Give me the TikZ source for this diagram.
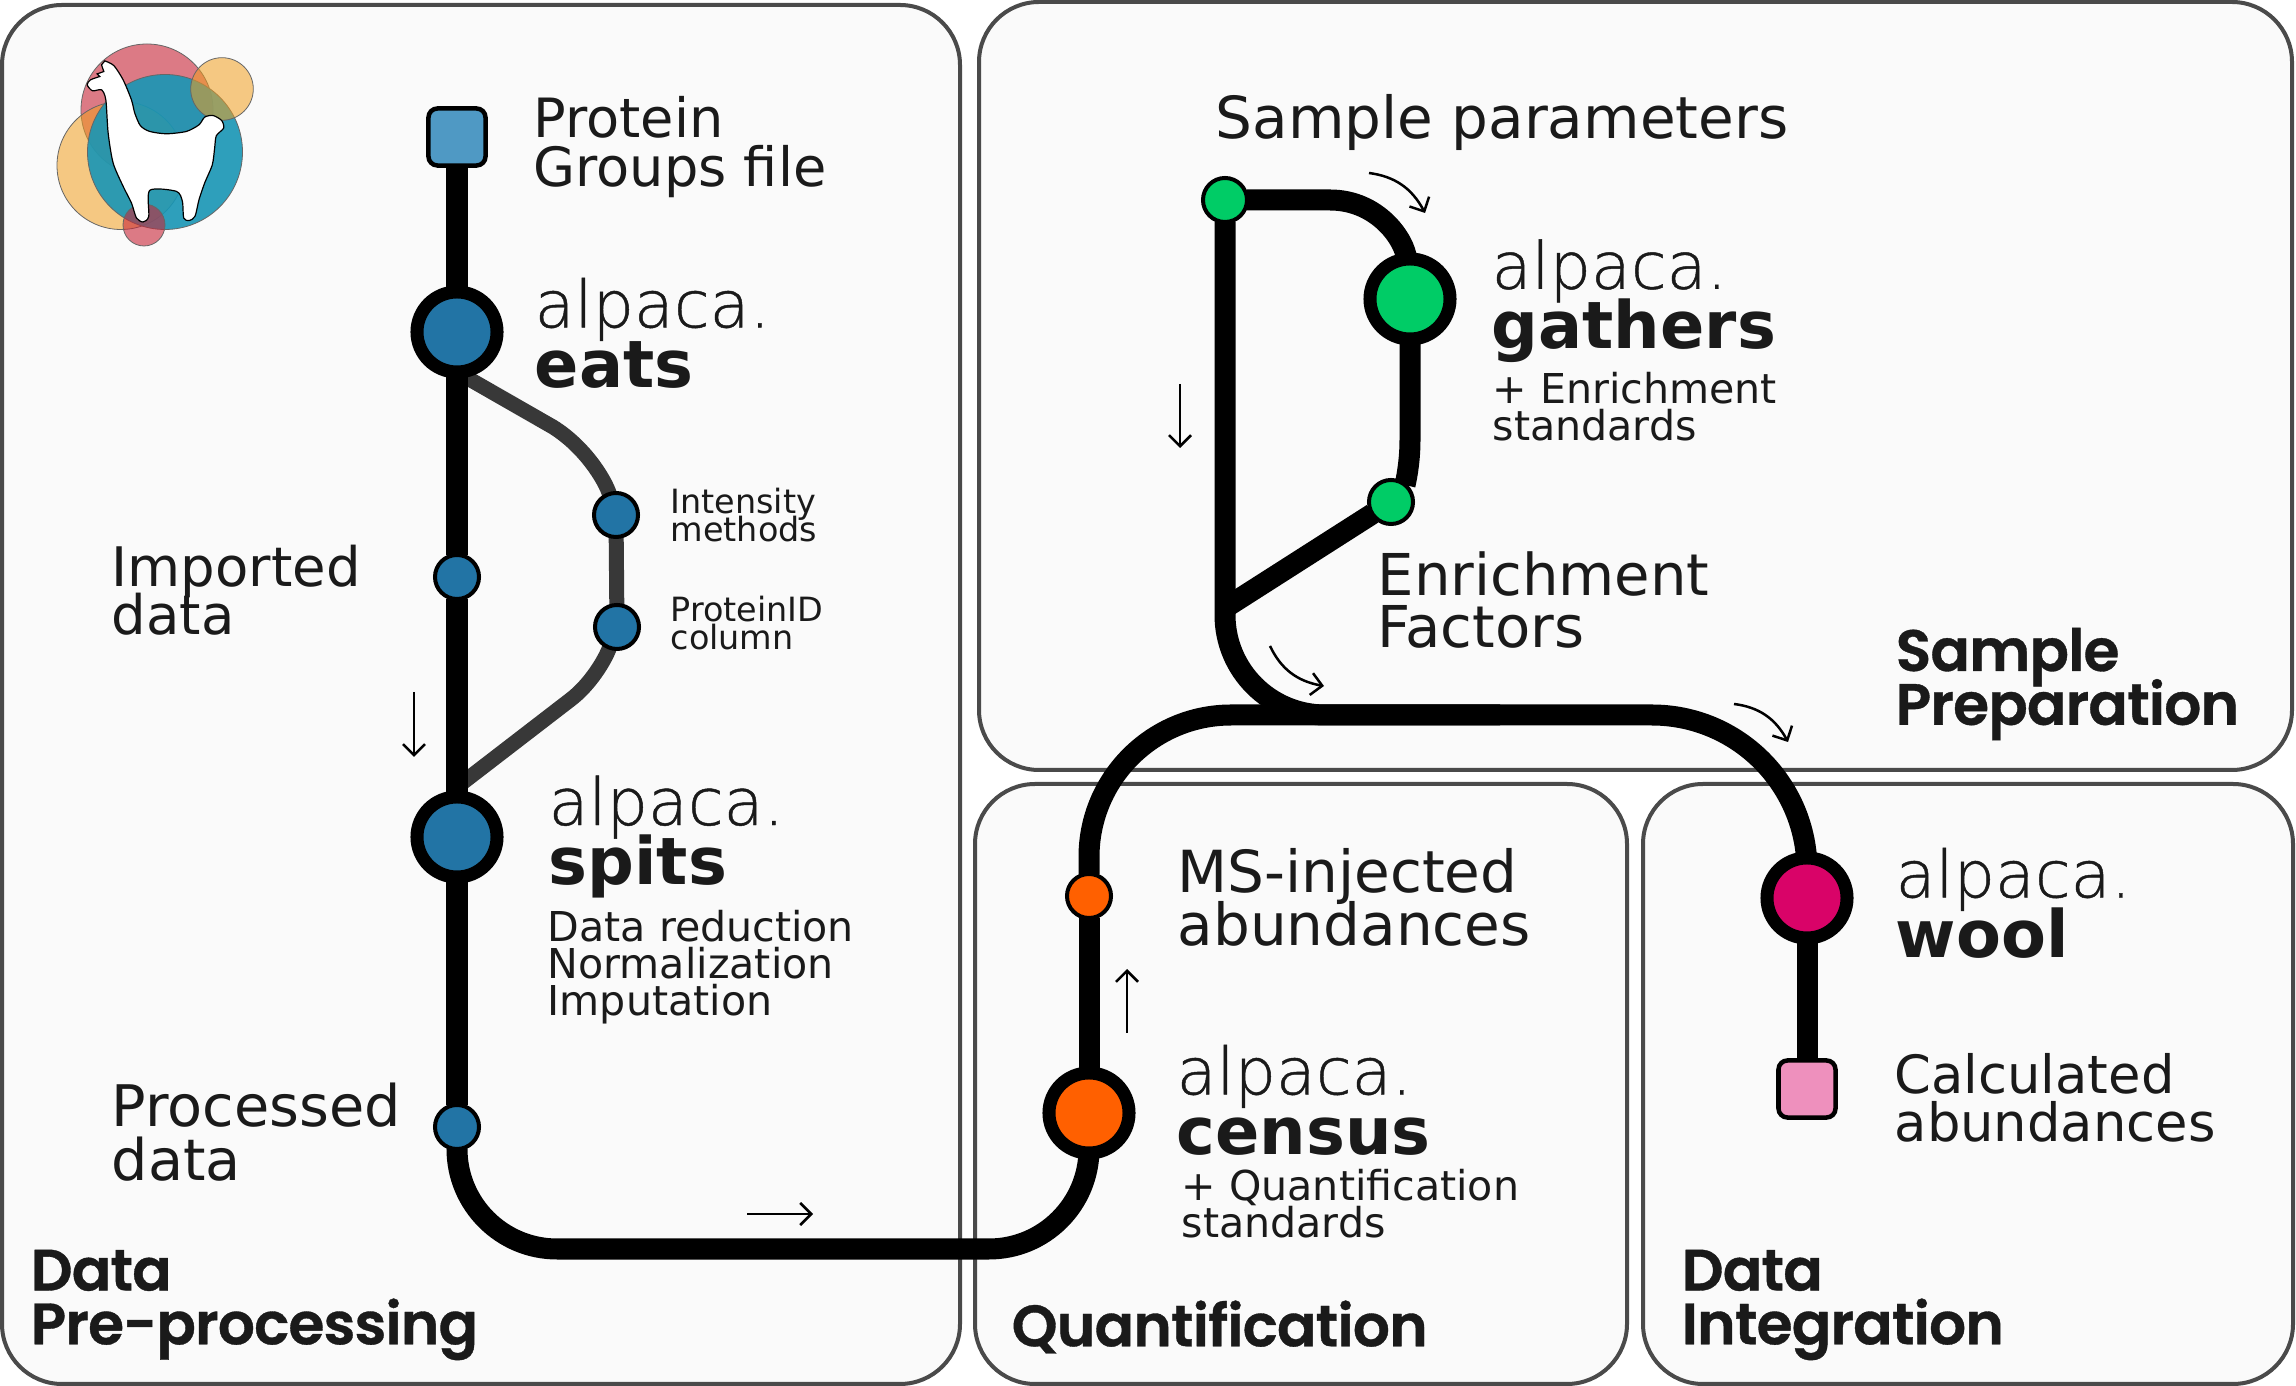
\documentclass[tikz,border=0pt]{standalone}
\usepackage{fontspec}
\setmainfont{DejaVu Sans}
\newfontfamily\lightfont[FakeBold=0.7]{DejaVu Sans ExtraLight}
\newfontfamily\titlefont[LetterSpace=-1.5,FakeBold=0.6]{Poppins SemiBold}
\usetikzlibrary{arrows.meta,bending}
\definecolor{panelgray}{HTML}{4A4A4A}
\definecolor{panelfill}{HTML}{FAFAFA}
\definecolor{inktext}{HTML}{1A1A1A}
\definecolor{darkbranch}{HTML}{383838}
\definecolor{stopblue}{HTML}{2274A5}
\definecolor{fileblue}{HTML}{4F99C4}
\definecolor{stopgreen}{HTML}{00CC66}
\definecolor{stoporange}{HTML}{FF6000}
\definecolor{stoppink}{HTML}{D90368}
\definecolor{filepink}{HTML}{EE90BD}
\definecolor{logored}{HTML}{C82637}
\definecolor{logoyellow}{HTML}{F19F20}
\definecolor{logoblue}{HTML}{1896B5}
\newcommand{\setfont}[2]{\fontsize{#1}{#2}\selectfont\lineskiplimit=-100pt\relax}
\newcommand{\alpacaword}{{\mdseries\lightfont\fontsize{18.5}{17}\selectfont alpaca.}}
\pgfdeclarelayer{panels}
\pgfdeclarelayer{lines}
\pgfsetlayers{panels,lines,main}
\tikzset{
  panelbox/.style={draw=panelgray, fill=panelfill, line width=0.04cm, rounded corners=0.6cm},
  mainline/.style={draw=black, line width=0.21cm},
  branchline/.style={draw=darkbranch, line width=0.15cm},
  bigstop/.style={circle, draw=black, line width=0.13cm, minimum size=0.8cm, inner sep=0pt, outer sep=0pt},
  smallstop/.style={circle, draw=black, line width=0.04cm, minimum size=0.44cm, inner sep=0pt, outer sep=0pt},
  filestop/.style={rectangle, rounded corners=0.09cm, draw=black, line width=0.045cm, minimum size=0.57cm, inner sep=0pt, outer sep=0pt},
  txt/.style={anchor=west, align=left, inner sep=0pt, text=inktext},
  midlabel/.style={txt, font=\setfont{11.7}{10.6}},
  smalllabel/.style={txt, font=\setfont{9.5}{8.0}},
  stagelabel/.style={txt, font=\setfont{18.6}{17.0}\bfseries},
  titlelabel/.style={txt, font=\setfont{16.6}{15.3}\titlefont},
  flow/.style={->, >={Straight Barb[length=0.11cm,width=0.22cm]}, line width=0.025cm},
  logodisc/.style={draw=black!60, line width=0.008cm, fill opacity=#1},
  logodisc/.default=0.55
}
\begin{document}
\begin{tikzpicture}[x=0.01cm, y=-0.01cm]
    \useasboundingbox (0,0) rectangle (2296,1386);

    %% Panels
    \begin{pgfonlayer}{panels}
    \draw[panelbox] (2,5) rectangle (960,1384);
    \draw[panelbox] (979,2) rectangle (2292,770);
    \draw[panelbox] (975,784) rectangle (1627,1384);
    \draw[panelbox] (1643,784) rectangle (2293,1384);
    \end{pgfonlayer}

    %% Logo
    \fill[logored, logodisc=0.6] (147,110) circle (66);
    \fill[logoyellow, logodisc] (121,165.5) circle (64);
    \fill[logoblue, logodisc=0.9] (165,152) circle (77.5);
    \fill[logoyellow, logodisc] (222,89) circle (31.3);
    \fill[logored, logodisc=0.6] (144,225) circle (21);
    \begin{scope}[x=0.003333cm, y=-0.003333cm]
      \draw[fill=white, line width=0.012cm] plot[smooth, tension=0.45] coordinates {
        (315,183) (342,197) (370,240) (395,300) (405,340) (422,378) (450,395) (500,402)
        (560,395) (598,375) (615,352) (640,347) (666,362) (672,385) (650,408) (645,445)
        (638,495) (615,550) (598,600) (586,650) (568,663) (552,655) (548,605) (530,575)
        (450,572) (447,650) (430,667) (410,655) (395,610) (370,560) (340,490) (325,400)
        (318,300) (305,270) (278,273) (262,255) (272,240) (300,230)}
        -- (292,222) -- (312,215) -- (305,195) -- cycle;
    \end{scope}

    %% Stops
    \node[filestop, fill=fileblue] (groupsfile) at (457,137) {};
    \node[bigstop, fill=stopblue] (eats) at (457,332) {};
    \node[smallstop, fill=stopblue] (imported) at (457,577) {};
    \node[smallstop, fill=stopblue] (intensity) at (616,515) {};
    \node[smallstop, fill=stopblue] (proteinid) at (617,627) {};
    \node[bigstop, fill=stopblue] (spits) at (457,837) {};
    \node[smallstop, fill=stopblue] (processed) at (457,1127) {};
    \node[bigstop, fill=stoporange] (census) at (1089,1113) {};
    \node[smallstop, fill=stoporange] (injected) at (1089,896) {};
    \node[smallstop, fill=stopgreen] (params) at (1225,200) {};
    \node[bigstop, fill=stopgreen] (gathers) at (1410,299) {};
    \node[smallstop, fill=stopgreen] (factors) at (1391,502) {};
    \node[bigstop, fill=stoppink] (wool) at (1807,898) {};
    \node[filestop, fill=filepink] (calculated) at (1807,1089) {};

    \coordinate (branchtop) at (457,372);
    \coordinate (branchlow) at (457,787);
    \coordinate (bottomleft) at (457,1249);
    \coordinate (bottomright) at (1089,1249);
    \coordinate (upperleft) at (1089,715);
    \coordinate (upperright) at (1807,715);
    \coordinate (joinfactors) at (1225,608);
    \coordinate (joincorner) at (1225,715);
    \coordinate (joinend) at (1500,715);

    %% Lines
    \begin{pgfonlayer}{lines}
    \draw[branchline] (branchtop) -- (553,427) .. controls (585,447) and (605,480) .. (intensity);
    \draw[branchline] (intensity) -- (proteinid);
    \draw[branchline] (proteinid) .. controls (605,660) and (590,685) .. (570,700) -- (branchlow);
    \draw[mainline] (groupsfile) -- (eats) -- (imported) -- (spits) -- (processed);
    \draw[mainline, rounded corners=1cm] (processed) -- (bottomleft) -- (bottomright) -- (census);
    \draw[mainline] (census) -- (injected);
    \draw[mainline, rounded corners=1.42cm] (injected) -- (upperleft) [rounded corners=1.55cm] -- (upperright) -- (wool.center);
    \draw[mainline] (wool) -- (calculated);
    \draw[mainline, rounded corners=1cm] (params) -- (joincorner) -- (joinend);
    \draw[mainline] (params) -- (1330,200) .. controls (1378,200) and (1405,240) .. (gathers);
    \draw[mainline] (gathers) -- (1410,440) .. controls (1410,465) and (1405,485) .. (factors);
    \draw[mainline] (factors) -- (joinfactors);
    \end{pgfonlayer}

    %% Flow arrows
    \draw[flow] (414,692) -- (414,757);
    \draw[flow] (1180,384) -- (1180,448);
    \draw[flow] (1127,1033) -- (1127,969);
    \draw[flow] (747,1214) -- (813,1214);
    \draw[flow] (1369,173) to[bend left=28] (1425,213);
    \draw[flow] (1270,646) to[bend right=28] (1324,686);
    \draw[flow] (1734,704) to[bend left=28] (1788,742);

    %% Texts
    \node[txt, font=\setfont{15.4}{14}] (groupstext) at (533,147) {Protein\\Groups file};
    \node[txt, font=\setfont{15.5}{13.8}] (importedtext) at (111,590) {Imported\\data};
    \node[txt, font=\setfont{16.3}{15.2}] (processedtext) at (111,1132) {Processed\\data};
    \node[txt, font=\setfont{16.5}{15}] (paramstext) at (1215,123) {Sample parameters};
    \node[txt, font=\setfont{16.4}{15}] (factorstext) at (1377,600) {Enrichment\\Factors};
    \node[txt, font=\setfont{16.5}{15}] (injectedtext) at (1177,897) {MS-injected\\abundances};
    \node[txt, font=\setfont{15}{13.8}] (calculatedtext) at (1894,1098) {Calculated\\abundances};

    \node[smalllabel] (intensitytext) at (670,515) {Intensity\\methods};
    \node[smalllabel] (proteinidtext) at (670,623) {ProteinID\\column};

    \node[midlabel] (spitsnotes) at (547,967) {Data reduction\\Normalization\\Imputation};
    \node[midlabel] (gathersnotes) at (1492,407) {+ Enrichment\\standards};
    \node[midlabel] (censusnotes) at (1181,1204) {+ Quantification\\standards};

    \node[stagelabel] (eatstext) at (534,333) {\alpacaword\\eats};
    \node[stagelabel] (spitstext) at (548,837) {\alpacaword\\spits};
    \node[stagelabel] (gatherstext) at (1491,301) {\alpacaword\\gathers};
    \node[stagelabel] (censustext) at (1176,1100) {\alpacaword\\census};
    \node[stagelabel] (wooltext) at (1895,903) {\alpacaword\\wool};

    \node[titlelabel] (prepanel) at (30,1305) {Data\\Pre-processing};
    \node[titlelabel] (samplepanel) at (1895,684) {Sample\\Preparation};
    \node[titlelabel] (quantpanel) at (1011,1327) {Quantification};
    \node[titlelabel] (integrationpanel) at (1681,1305) {Data\\Integration};
\end{tikzpicture}
\end{document}
